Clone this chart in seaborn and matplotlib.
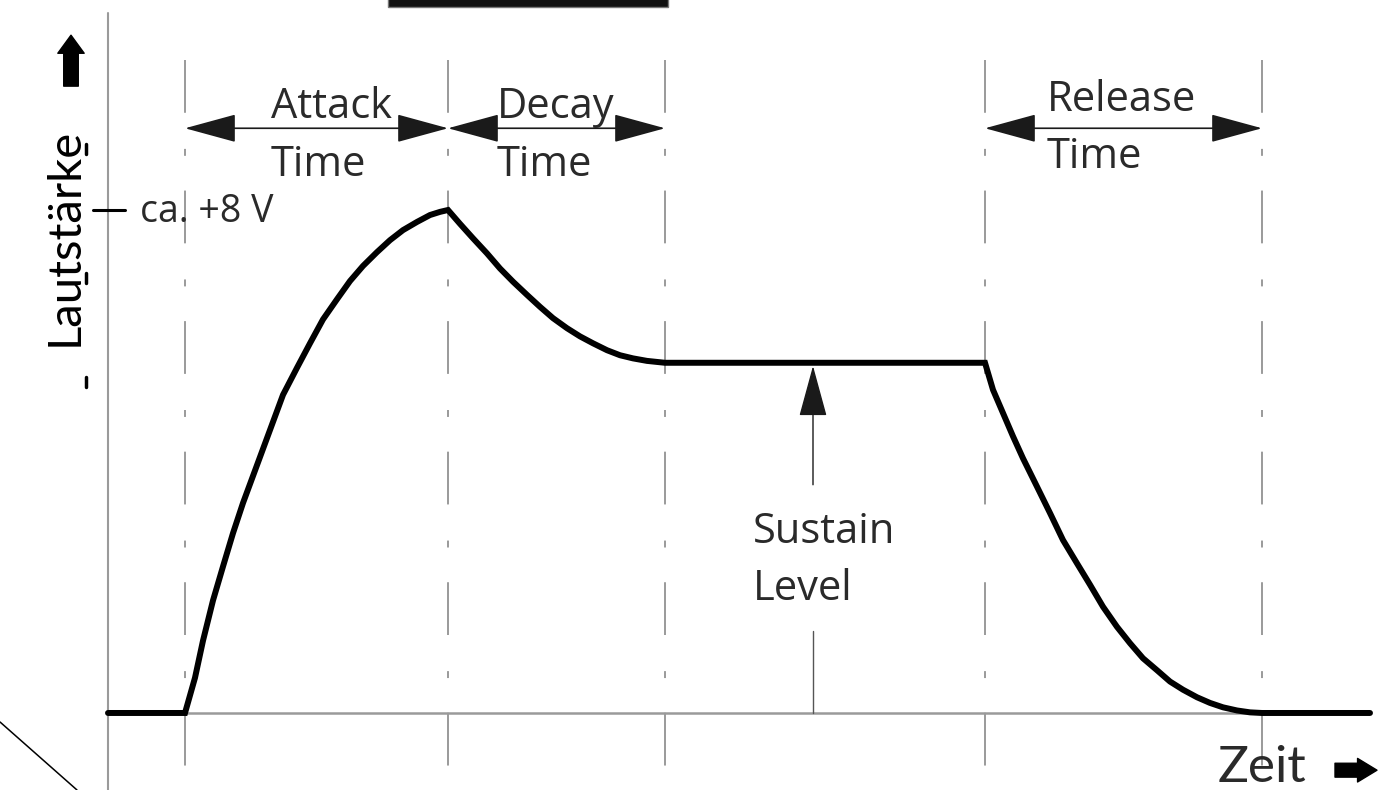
import matplotlib
matplotlib.use("Agg")
import matplotlib.pyplot as plt
from matplotlib.patches import Rectangle
import seaborn as sns

# ADSR-Hüllkurve: Zeit (willkürliche Einheiten) und Spannung (V)
attack_t = [0.00, 0.10, 0.18, 0.28, 0.38, 0.48, 0.58, 0.68, 0.78, 0.88, 0.98, 1.12,
            1.25, 1.38, 1.52, 1.65, 1.78, 1.92, 2.05, 2.18, 2.32, 2.45, 2.55, 2.63]
attack_v = [0.00, 0.56, 1.15, 1.79, 2.33, 2.86, 3.34, 3.77, 4.20, 4.63, 5.06, 5.49,
            5.88, 6.26, 6.58, 6.87, 7.11, 7.33, 7.52, 7.68, 7.81, 7.92, 7.97, 8.00]

decay_t = [2.63, 2.75, 2.88, 3.02, 3.15, 3.28, 3.42, 3.55, 3.68, 3.82, 3.95, 4.08,
           4.22, 4.35, 4.48, 4.62, 4.80]
decay_v = [8.00, 7.78, 7.55, 7.31, 7.07, 6.86, 6.65, 6.46, 6.28, 6.12, 5.99, 5.88,
           5.77, 5.69, 5.64, 5.60, 5.57]

sustain_t = [4.80, 8.00]
sustain_v = [5.57, 5.57]

release_t = [8.00, 8.08, 8.18, 8.28, 8.38, 8.52, 8.65, 8.78, 8.92, 9.05, 9.18, 9.32,
             9.45, 9.58, 9.72, 9.85, 9.98, 10.12, 10.25, 10.38, 10.52, 10.65, 10.77]
release_v = [5.57, 5.14, 4.77, 4.40, 4.05, 3.60, 3.18, 2.75, 2.38, 2.04, 1.69, 1.37,
             1.11, 0.87, 0.68, 0.50, 0.37, 0.25, 0.16, 0.09, 0.04, 0.01, 0.00]

phase_edges = [0.00, 2.63, 4.80, 8.00, 10.77]
phase_names = [("Attack", "Time"), ("Decay", "Time"), None, ("Release", "Time")]
peak_label = "ca. +8 V"
sustain_label = ["Sustain", "Level"]

t_start, t_end = -0.77, 11.85
peak_v = 8.0
sustain_level = 5.57

sns.set_theme(style="white")
plt.rcParams["font.family"] = ["Lato", "DejaVu Sans"]
plt.rcParams["lines.scale_dashes"] = False

fig = plt.figure(figsize=(13.8, 7.9), dpi=100)
ax = fig.add_axes([0, 0, 1, 1])
ax.set_xlim(-1.85, 11.95)
ax.set_ylim(-1.225, 11.34)
ax.axis("off")

gray = "#9a9a9a"
txt = "#2a2a2a"
lab_font = ["Open Sans", "DejaVu Sans"]

# y-Achse und Nulllinie
ax.plot([t_start, t_start], [11.13, -1.3], color=gray, lw=1.5)
ax.plot([t_start, t_end], [0, 0], color=gray, lw=1.8)

# Strichpunktlinien an den Phasengrenzen
for t in phase_edges:
    ax.plot([t, t], [10.39, -1.3], color=gray, lw=1.4,
            linestyle=(0, (38, 26, 5, 25)))

# Hüllkurve
env_t = [t_start] + attack_t + decay_t[1:] + sustain_t[1:] + release_t[1:] + [t_end]
env_v = [0.0] + attack_v + decay_v[1:] + sustain_v[1:] + release_v[1:] + [0.0]
sns.lineplot(x=env_t, y=env_v, ax=ax, color="black", linewidth=4.3,
             estimator=None, sort=False, solid_joinstyle="miter")

# Doppelpfeile und Beschriftungen der Phasen
arrow_v = 9.30
for i, names in enumerate(phase_names):
    if names is None:
        continue
    a, b = phase_edges[i], phase_edges[i + 1]
    ax.annotate("", xy=(b, arrow_v), xytext=(a, arrow_v),
                arrowprops=dict(arrowstyle="<|-|>,head_length=2.2,head_width=0.6",
                                mutation_scale=15, color="#1a1a1a", lw=1.2,
                                shrinkA=0, shrinkB=0))
    left = {0: a + 0.86, 1: a + 0.49, 3: a + 0.62}[i]
    top_v = 9.46 if i < 3 else 9.58
    ax.text(left, top_v, names[0], fontsize=30, color=txt, ha="left", va="baseline",
            family=lab_font)
    ax.text(left, top_v - 0.92, names[1], fontsize=30, color=txt, ha="left",
            va="baseline", family=lab_font)

# Sustain-Pfeil
mid = (sustain_t[0] + sustain_t[1]) / 2 - 0.12
ax.annotate("", xy=(mid, sustain_level - 0.05), xytext=(mid, 3.63),
            arrowprops=dict(arrowstyle="-|>,head_length=2.2,head_width=0.6",
                            mutation_scale=15, color="#1a1a1a", lw=1.0,
                            shrinkA=0, shrinkB=0))
ax.plot([mid, mid], [1.30, 0], color="#555555", lw=1.0)
ax.text(mid - 0.60, 2.71, sustain_label[0], fontsize=30, color=txt, ha="left",
        va="baseline", family=lab_font)
ax.text(mid - 0.60, 1.80, sustain_label[1], fontsize=30, color=txt, ha="left",
        va="baseline", family=lab_font)

# Spitzenwert-Markierung
ax.plot([-0.92, -0.60], [peak_v, peak_v], color="black", lw=2.2)
ax.text(-0.45, 7.81, peak_label, fontsize=27, color=txt, ha="left", va="baseline",
        family=lab_font)

# Achsenbeschriftungen
ax.text(-1.20, 7.57, "Lautstärke", fontsize=34, color="black", rotation=90,
        ha="center", va="center")
ax.annotate("", xy=(-1.14, 10.78), xytext=(-1.14, 9.97),
            arrowprops=dict(arrowstyle="simple,head_length=13,head_width=19,tail_width=10.5",
                            mutation_scale=1, color="black", shrinkA=0, shrinkB=0))
ax.text(10.33, -1.10, "Zeit", fontsize=37, color=txt, ha="left", va="baseline")
ax.annotate("", xy=(11.92, -0.91), xytext=(11.50, -0.91),
            arrowprops=dict(arrowstyle="simple,head_length=14,head_width=17,tail_width=10",
                            mutation_scale=1, color="black", shrinkA=0, shrinkB=0))

# Reste des Originalbildes: Balken oben, Diagonale unten links, Striche links
ax.add_patch(Rectangle((2.03, 11.23), 2.80, 0.2, facecolor="#111111",
                       edgecolor="#777777", lw=1.0))
ax.plot([-1.85, -1.08], [-0.143, -1.225], color="black", lw=1.1)
for v in [9.05, 7.00, 5.35]:
    ax.plot([-0.99, -0.99], [v, v - 0.16], color="black", lw=2.5)

fig.savefig("out.png", dpi=100)
